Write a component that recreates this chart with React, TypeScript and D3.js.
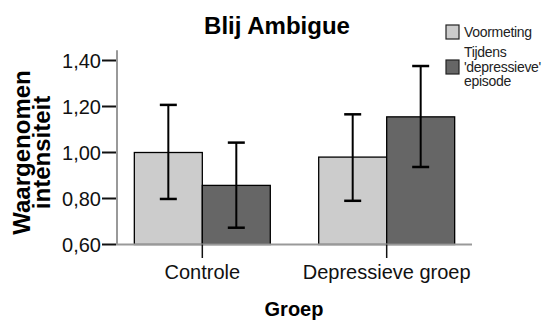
import React from 'react'
import * as d3 from 'd3'

const categories = ['Controle', 'Depressieve groep']
const series = ['Voormeting', 'Tijdens']
const legendLines = [['Voormeting'], ['Tijdens', "'depressieve'", 'episode']]
const meanVoormeting = [1.0, 0.98]
const meanTijdens = [0.857, 1.155]
const lowVoormeting = [0.798, 0.79]
const highVoormeting = [1.207, 1.166]
const lowTijdens = [0.673, 0.937]
const highTijdens = [1.043, 1.376]
const yTicks = [0.6, 0.8, 1.0, 1.2, 1.4]
const colors = ['#cccccc', '#666666']

const font = 'Liberation Sans, Arial, sans-serif'

const App = () => {
  const width = 550
  const height = 322

  const y = d3.scaleLinear().domain([0.6, 1.4]).range([244.5, 60.5])
  const x0 = d3.scaleBand().domain(categories).range([117, 472]).paddingInner(0.2625).paddingOuter(0.094)
  const x1 = d3.scaleBand().domain(series).range([0, x0.bandwidth()])

  const means = [meanVoormeting, meanTijdens]
  const lows = [lowVoormeting, lowTijdens]
  const highs = [highVoormeting, highTijdens]
  const fmt = (d: number) => d.toFixed(2).replace('.', ',')

  const bars = []
  categories.forEach((c, i) => {
    series.forEach((s, j) => {
      bars.push({ c, s, j, mean: means[j][i], low: lows[j][i], high: highs[j][i] })
    })
  })

  return (
    <svg width={width} height={height} style={{ position: 'absolute', left: 0, top: 0, background: '#fff' }}>
      <text x={277} y={34} textAnchor="middle" fontFamily={font} fontWeight="bold" fontSize={24}>Blij Ambigue</text>

      {/* bars */}
      {bars.map((b, k) => (
        <rect key={'b' + k}
          x={x0(b.c) + x1(b.s)}
          y={y(b.mean)}
          width={x1.bandwidth()}
          height={y(0.6) - y(b.mean)}
          fill={colors[b.j]}
          stroke="#000"
          strokeWidth={1.3} />
      ))}

      {/* axes */}
      <line x1={117} x2={117} y1={y(1.445)} y2={y(0.6)} stroke="#999" strokeWidth={2} />
      <line x1={116} x2={472} y1={y(0.6)} y2={y(0.6)} stroke="#999" strokeWidth={2} />
      {yTicks.map(t => (
        <g key={'t' + t}>
          <line x1={102} x2={116} y1={y(t)} y2={y(t)} stroke="#111" strokeWidth={2} />
          <text x={101} y={y(t) + 7} textAnchor="end" fontFamily={font} fontSize={20} fill="#111">{fmt(t)}</text>
        </g>
      ))}
      {categories.map(c => (
        <g key={c}>
          <line x1={x0(c) + x0.bandwidth() / 2} x2={x0(c) + x0.bandwidth() / 2} y1={y(0.6)} y2={258} stroke="#111" strokeWidth={1.5} />
          <text x={x0(c) + x0.bandwidth() / 2} y={279} textAnchor="middle" fontFamily={font} fontSize={20} fill="#111">{c}</text>
        </g>
      ))}

      {/* error bars */}
      {bars.map((b, k) => {
        const cx = x0(b.c) + x1(b.s) + x1.bandwidth() / 2
        return (
          <g key={'e' + k} stroke="#000">
            <line x1={cx} x2={cx} y1={y(b.high)} y2={y(b.low)} strokeWidth={2} />
            <line x1={cx - 8.5} x2={cx + 8.5} y1={y(b.high)} y2={y(b.high)} strokeWidth={2.5} />
            <line x1={cx - 8.5} x2={cx + 8.5} y1={y(b.low)} y2={y(b.low)} strokeWidth={2.5} />
          </g>
        )
      })}

      <text x={294} y={316} textAnchor="middle" fontFamily={font} fontWeight="bold" fontSize={20}>Groep</text>
      <text transform="translate(29.5,152.5) rotate(-90)" textAnchor="middle" fontFamily={font} fontWeight="bold" fontSize={24}>Waargenomen</text>
      <text transform="translate(50,152.5) rotate(-90)" textAnchor="middle" fontFamily={font} fontWeight="bold" fontSize={24}>intensiteit</text>

      {/* legend */}
      <rect x={446} y={25} width={13} height={14} fill={colors[0]} stroke="#222" strokeWidth={1.2} />
      <rect x={446} y={60} width={13} height={14} fill={colors[1]} stroke="#222" strokeWidth={1.2} />
      {legendLines[0].map((l, i) => (
        <text key={l} x={464} y={37} fontFamily={font} fontSize={14} fill="#222" letterSpacing={-0.3}>{l}</text>
      ))}
      {legendLines[1].map((l, i) => (
        <text key={l} x={464} y={57 + i * 14.5} fontFamily={font} fontSize={14} fill="#222" letterSpacing={-0.3}>{l}</text>
      ))}
    </svg>
  )
}

export default App
